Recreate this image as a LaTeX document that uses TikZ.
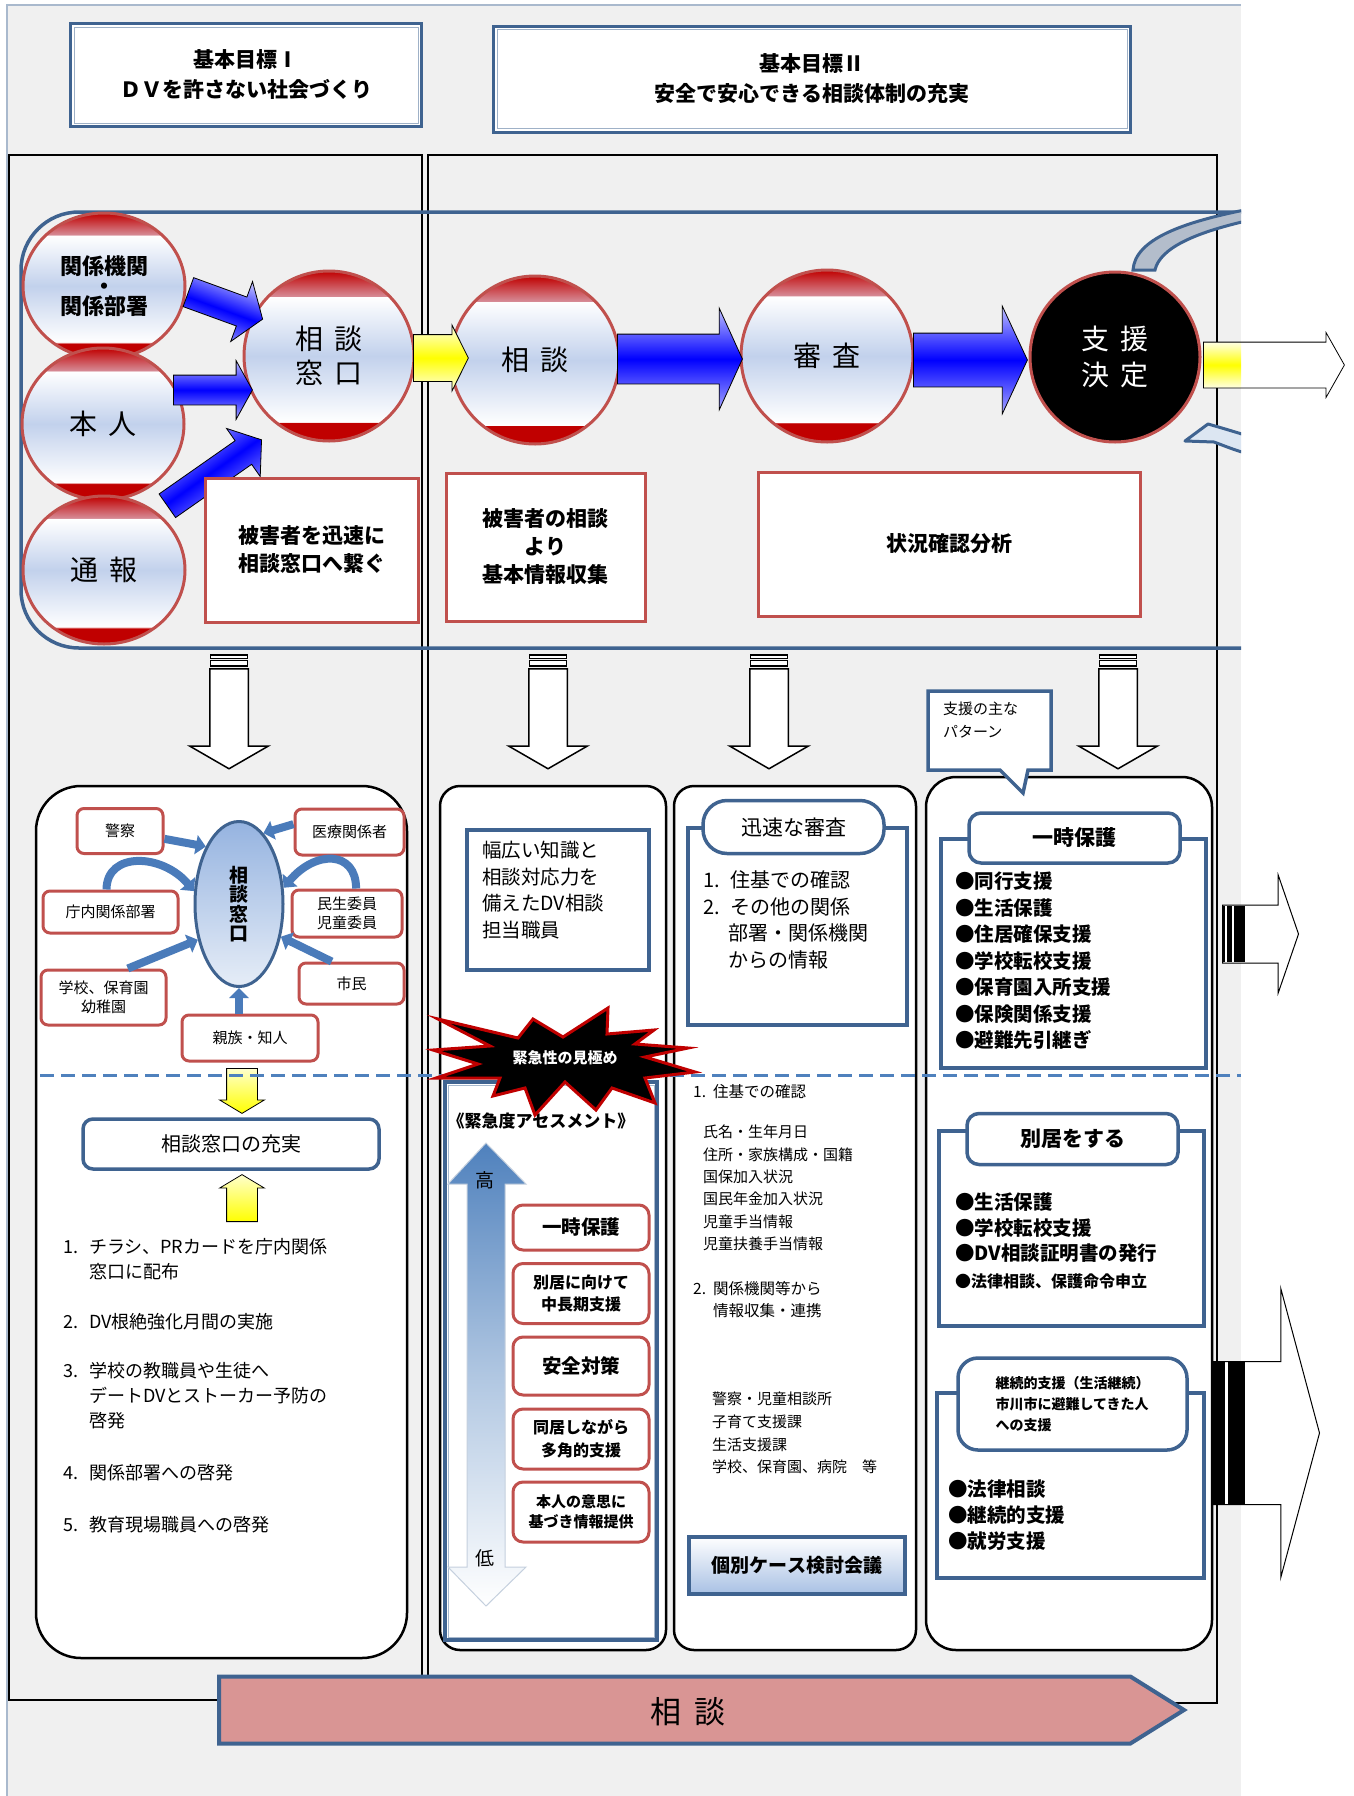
\documentclass[tikz,border=0pt]{standalone}
\usepackage{fontspec}
\setmainfont{Noto Sans CJK JP}
\usetikzlibrary{shapes.geometric,shapes.arrows,arrows.meta,positioning,calc}

\definecolor{bggray}{HTML}{F0F0F0}
\definecolor{lineblue}{HTML}{3F6390}
\definecolor{boxred}{HTML}{C0504D}
\definecolor{capred}{HTML}{C00000}
\definecolor{capfade}{HTML}{D68B96}
\definecolor{ballblue}{HTML}{C2D1EC}
\definecolor{linkblue}{HTML}{4A7BBA}
\definecolor{dashblue}{HTML}{4F81BD}
\definecolor{ovalblue}{HTML}{95B3E0}
\definecolor{ovalpale}{HTML}{E6EDF7}
\definecolor{meetblue}{HTML}{A9C1E4}
\definecolor{soudanpink}{HTML}{D99594}
\definecolor{bendgray}{HTML}{B3BDCB}
\definecolor{bendpale}{HTML}{DCE6F2}

\newcommand{\fsz}[2]{\fontsize{#1}{#2}\selectfont}

\pgfdeclareverticalshading{ballshade}{100bp}{color(0bp)=(capred); color(25bp)=(capred); color(30.5bp)=(capred); color(30.6bp)=(white); color(50bp)=(ballblue); color(67.4bp)=(white); color(67.5bp)=(capfade); color(75bp)=(capred); color(100bp)=(capred)}

\begin{document}
\begin{tikzpicture}[x=1pt, y=-1pt,
    titlebox/.style = {draw=lineblue, line width=3pt, fill=white, align=center, font=\fsz{21}{30}\bfseries},
    ball/.style = {circle, draw=boxred, line width=3pt, shade, shading=ballshade, inner sep=0pt, align=center, font=\fsz{28}{34}},
    sideball/.style = {ball, ellipse, minimum width=162pt},
    darkball/.style = {circle, draw=boxred, line width=3pt, fill=black, text=white, inner sep=0pt, align=center, font=\fsz{28}{36}},
    bluearrow/.style = {single arrow, draw=black, line width=0.8pt, inner xsep=0pt, anchor=tail, top color=blue!25, bottom color=blue!35, middle color=blue},
    yellowarrow/.style = {single arrow, draw=black, line width=0.8pt, inner xsep=0pt, anchor=tail, top color=yellow!12, bottom color=yellow!12, middle color=yellow},
    redbox/.style = {draw=boxred, line width=3pt, fill=white, align=center, inner sep=0pt, font=\fsz{21}{28}\bfseries},
    downarrow/.style = {single arrow, draw=black, line width=1.5pt, fill=white, inner xsep=0pt, inner ysep=18.5pt, single arrow head extend=20pt, single arrow tip angle=120, minimum height=100pt, rotate=-90, anchor=tail},
    colbox/.style = {draw=black, line width=2.5pt, fill=white, inner sep=0pt},
    smallbox/.style = {draw=boxred, line width=3pt, fill=white, rounded corners=7pt, align=center, inner sep=0pt, font=\fsz{15}{19}},
    link/.style = {draw=linkblue, line width=8pt, -{Triangle[length=10pt, width=19pt]}},
    listbox/.style = {draw=lineblue, line width=4pt, fill=white, inner sep=0pt},
    tabbox/.style = {draw=lineblue, line width=3.5pt, fill=white, rounded corners=12pt, inner sep=0pt, align=center, font=\fsz{21}{26}\bfseries},
    stepred/.style = {draw=boxred, line width=3pt, fill=white, rounded corners=10pt, align=center, inner sep=0pt, minimum width=136pt},
    txt/.style = {inner sep=0pt, align=left, anchor=west}
  ]
\useasboundingbox (0,0) rectangle (1354,1796);
\fill[white] (0,0) rectangle (1354,1796);
\fill[bggray] (7,5) rectangle (1241,1796);
\draw[lineblue!45, line width=2pt] (7,1796) -- (7,5) -- (1241,5);

\node[titlebox, minimum width=351pt, minimum height=103pt] (goal1) at (246,75) {基本目標Ⅰ\\ＤＶを許さない社会づくり};
\draw[lineblue!50, line width=1pt] ($(goal1.north west)+(5,5)$) rectangle ($(goal1.south east)+(-5,-5)$);
\node[titlebox, minimum width=637pt, minimum height=106pt] (goal2) at (812,79) {基本目標Ⅱ\\安全で安心できる相談体制の充実};
\draw[lineblue!50, line width=1pt] ($(goal2.north west)+(5,5)$) rectangle ($(goal2.south east)+(-5,-5)$);

\draw[line width=2pt] (9,155) rectangle (422,1700);
\draw[line width=2pt] (428,155) rectangle (1217,1703);

\draw[lineblue, line width=3.5pt, rounded corners=58pt] (1241,212) -- (21,212) -- (21,648) -- (1241,648);
\begin{scope}
  \clip (0,0) rectangle (1241,1796);
  \draw[lineblue, line width=3pt, fill=bendgray] (1133,270) .. controls (1135,240) and (1180,222) .. (1255,208) -- (1255,219) .. controls (1195,232) and (1160,248) .. (1155,270) -- cycle;
  \draw[lineblue, line width=3pt, fill=bendpale, line join=round] (1185,441) -- (1208,424) .. controls (1222,428) .. (1255,438) -- (1255,456) .. controls (1235,450) .. (1214,442) -- cycle;
\end{scope}

\node[sideball, minimum height=146pt, font=\fsz{22}{26}\bfseries] (kikan) at (104,286) {関係機関\\[-6pt]・\\[-6pt]関係部署};
\node[sideball, minimum height=152pt] (honnin) at (103,424) {本\hspace{.4em}人};
\node[sideball, minimum height=148pt] (tsuho) at (104,570) {通\hspace{.4em}報};
\node[ball, minimum size=170pt] (madoguchi) at (329,356) {相\hspace{.4em}談\\窓\hspace{.4em}口};
\node[ball, minimum size=168pt] (soudan) at (535,360) {相\hspace{.4em}談};
\node[ball, minimum size=172pt] (shinsa) at (827,356) {審\hspace{.4em}査};
\node[darkball, minimum size=170pt] (kettei) at (1115,357) {支\hspace{.4em}援\\決\hspace{.4em}定};

\node[bluearrow, inner ysep=15pt, single arrow head extend=16.5pt, single arrow tip angle=110, minimum height=79pt, rotate=-20, shading angle=-20] (kikanarrow) at (188,292) {};
\node[bluearrow, inner ysep=14.5pt, single arrow head extend=14.5pt, single arrow tip angle=122, minimum height=79pt] (honninarrow) at (173,390) {};
\node[bluearrow, inner ysep=14pt, single arrow head extend=15pt, single arrow tip angle=106, minimum height=115pt, rotate=35, shading angle=35] (tsuhoarrow) at (167,506) {};
\node[yellowarrow, inner ysep=23pt, single arrow head extend=9.5pt, single arrow tip angle=127, minimum height=55pt] (madoguchiarrow) at (413,358) {};
\node[bluearrow, inner ysep=24.5pt, single arrow head extend=26pt, single arrow tip angle=131, minimum height=125pt] (soudanarrow) at (617,359) {};
\node[bluearrow, inner ysep=26.5pt, single arrow head extend=27pt, single arrow tip angle=130, minimum height=114pt] (shinsaarrow) at (913,360) {};
\shade[top color=yellow!12, bottom color=yellow!12, middle color=yellow] (1203,342.5) rectangle (1241,387.5);
\node[single arrow, draw=black, line width=0.8pt, inner xsep=0pt, anchor=tail, inner ysep=22.5pt, single arrow head extend=9.5pt, single arrow tip angle=121, minimum height=141pt] (ketteiarrow) at (1203,365) {};

\node[redbox, minimum width=213pt, minimum height=144pt] (tsunagu) at (311.5,550) {被害者を迅速に\\相談窓口へ繋ぐ};
\node[redbox, minimum width=199pt, minimum height=148pt] (shushu) at (545.5,547) {被害者の相談\\より\\基本情報収集};
\node[redbox, minimum width=382pt, minimum height=144pt] (bunseki) at (949,544) {状況確認分析};

\node[downarrow] (downA) at (229,668) {};
\node[downarrow] (downB) at (548,668) {};
\node[downarrow] (downC) at (769,668) {};
\node[downarrow] (downD) at (1118,668) {};
\foreach \cx in {229,548,769,1118} {
  \draw[fill=white, line width=1.2pt] (\cx-18.5,655) rectangle (\cx+18.5,658.5);
  \draw[fill=white, line width=1.2pt] (\cx-18.5,660.5) rectangle (\cx+18.5,666);
}

\node[colbox, rounded corners=45pt, minimum width=371pt, minimum height=872pt] (leftcol) at (221.5,1222) {};
\node[colbox, rounded corners=20pt, minimum width=226pt, minimum height=864pt] (assesscol) at (553,1218) {};
\node[colbox, rounded corners=20pt, minimum width=242pt, minimum height=864pt] (checkcol) at (795,1218) {};
\node[colbox, rounded corners=30pt, minimum width=286pt, minimum height=873pt] (supportcol) at (1069,1213.5) {};

\draw[lineblue, line width=3.5pt, fill=white, line join=miter] (928,691) -- (1051,691) -- (1051,770) -- (1028,770) -- (1023,793) -- (1000,770) -- (928,770) -- cycle;
\node[txt, font=\fsz{15}{23}] (pattern) at (943,720.5) {支援の主な\\パターン};

\node[ellipse, draw=lineblue, line width=3pt, top color=ovalblue, bottom color=ovalpale, minimum width=88pt, minimum height=165pt, inner sep=0pt, align=center, font=\fsz{19}{19.5}\bfseries] (oval) at (239,904) {相\\談\\窓\\口};
\node[smallbox, minimum width=86pt, minimum height=45pt] (keisatsu) at (120,831) {警察};
\node[smallbox, minimum width=109pt, minimum height=46pt] (iryou) at (349.5,832) {医療関係者};
\node[smallbox, minimum width=135pt, minimum height=42pt] (chonai) at (110.5,912) {庁内関係部署};
\node[smallbox, minimum width=110pt, minimum height=47pt] (minsei) at (347,913.5) {民生委員\\児童委員};
\node[smallbox, minimum width=125pt, minimum height=55pt] (gakkou) at (103.5,997.5) {学校、保育園\\幼稚園};
\node[smallbox, minimum width=105pt, minimum height=41pt] (shimin) at (351.5,983.5) {市民};
\node[smallbox, minimum width=136pt, minimum height=46pt] (shinzoku) at (250,1038) {親族・知人};

\draw[link] (keisatsu.-10) -- (oval.120);
\draw[link] (iryou.172) -- (oval.71);
\draw[link] (chonai.100) .. controls +(0,-38) and +(-32,-38) .. (oval.164);
\draw[link] (minsei.70) .. controls +(0,-38) and +(32,-38) .. (oval.20);
\draw[link] (gakkou.50) -- (oval.221);
\draw[link] (shimin.132) -- (oval.-38);
\draw[link] (shinzoku.north -| oval.south) -- (oval.south);

\node[yellowarrow, top color=yellow!20, bottom color=yellow, inner ysep=15pt, single arrow head extend=7pt, single arrow tip angle=118, minimum height=45pt, rotate=-90] (downY) at (242,1068) {};
\node[tabbox, rounded corners=10pt, minimum width=296pt, minimum height=50pt, font=\fsz{20}{24}] (juujitsu) at (231,1144) {相談窓口の充実};
\node[yellowarrow, top color=yellow!20, bottom color=yellow, inner ysep=15pt, single arrow head extend=7pt, single arrow tip angle=118, minimum height=47pt, rotate=90] (upY) at (242,1222) {};

\node[txt, font=\fsz{18}{25}] (item1) at (63,1259.5) {\makebox[26pt][l]{1.}チラシ、PRカードを庁内関係\\\hspace*{26pt}窓口に配布};
\node[txt, font=\fsz{18}{25}] (item2) at (63,1322) {\makebox[26pt][l]{2.}DV根絶強化月間の実施};
\node[txt, font=\fsz{18}{25}] (item3) at (63,1396) {\makebox[26pt][l]{3.}学校の教職員や生徒へ\\\hspace*{26pt}デートDVとストーカー予防の\\\hspace*{26pt}啓発};
\node[txt, font=\fsz{18}{25}] (item4) at (63,1473) {\makebox[26pt][l]{4.}関係部署への啓発};
\node[txt, font=\fsz{18}{25}] (item5) at (63,1525) {\makebox[26pt][l]{5.}教育現場職員への啓発};

\node[listbox, minimum width=182pt, minimum height=140pt] (chishiki) at (558,900) {};
\node[txt, font=\fsz{19.5}{26.7}] (chishikitxt) at (482,890) {幅広い知識と\\相談対応力を\\備えたDV相談\\担当職員};
\node[draw=lineblue, line width=4pt, fill=white, minimum width=212pt, minimum height=558pt] (assess) at (551,1361) {};
\draw[lineblue!45, line width=1pt] ($(assess.north west)+(5,5)$) rectangle ($(assess.south east)+(-5,-5)$);
\node[font=\fsz{17}{20}\bfseries] (assesstitle) at (541,1121) {《緊急度アセスメント》};
\shadedraw[top color=dashblue, bottom color=white, middle color=dashblue!45, draw=lineblue!30, line width=1pt] (486,1143) -- (526,1184) -- (505,1184) -- (505,1567) -- (526,1567) -- (486,1606) -- (448,1567) -- (467,1567) -- (467,1184) -- (448,1184) -- cycle;
\node[font=\fsz{19}{22}] (high) at (485,1180) {高};
\node[font=\fsz{19}{22}] (low) at (485,1558) {低};
\node[stepred, minimum height=45pt, font=\fsz{19.5}{24}\bfseries] (stepA) at (581,1227.5) {一時保護};
\node[stepred, minimum height=60pt, font=\fsz{16}{22.5}\bfseries] (stepB) at (581,1293.5) {別居に向けて\\中長期支援};
\node[stepred, minimum height=58pt, font=\fsz{19.5}{24}\bfseries] (stepC) at (581,1366) {安全対策};
\node[stepred, minimum height=60pt, font=\fsz{16}{22.5}\bfseries] (stepD) at (581,1439) {同居しながら\\多角的支援};
\node[stepred, minimum height=60pt, font=\fsz{15}{19.5}\bfseries] (stepE) at (581,1512) {本人の意思に\\基づき情報提供};

\node[listbox, minimum width=219pt, minimum height=197pt] (jinsokubox) at (797.5,926.5) {};
\node[tabbox, rounded corners=24pt, minimum width=181pt, minimum height=53pt, font=\fsz{21}{24}] (jinsoku) at (793.5,827) {迅速な審査};
\node[txt, font=\fsz{20}{26.7}] (jinsokutxt) at (703,920) {\makebox[27pt][l]{1.}住基での確認\\\makebox[27pt][l]{2.}その他の関係\\\hspace*{25pt}部署・関係機関\\\hspace*{25pt}からの情報};
\node[txt, font=\fsz{15.5}{22}] (juuki) at (693,1092) {\makebox[20pt][l]{1.}住基での確認};
\node[txt, font=\fsz{15}{22.4}] (juukilist) at (703,1188) {氏名・生年月日\\住所・家族構成・国籍\\国保加入状況\\国民年金加入状況\\児童手当情報\\児童扶養手当情報};
\node[txt, font=\fsz{15.5}{21.5}] (kikanrenkei) at (693,1299.5) {\makebox[20pt][l]{2.}関係機関等から\\\hspace*{20pt}情報収集・連携};
\node[txt, font=\fsz{15}{22.7}] (kikanlist) at (712,1433) {警察・児童相談所\\子育て支援課\\生活支援課\\学校、保育園、病院\hspace{1em}等};
\node[draw=lineblue, line width=4pt, top color=white, bottom color=meetblue, minimum width=216pt, minimum height=57pt, font=\fsz{19}{22}\bfseries] (kobetsu) at (797,1565) {個別ケース検討会議};

\node[listbox, minimum width=265pt, minimum height=229pt] (ichijibox) at (1073.5,953.5) {};
\node[tabbox, minimum width=211pt, minimum height=50pt] (ichiji) at (1074.5,838) {一時保護};
\node[txt, font=\fsz{19.5}{26.5}\bfseries] (ichijilist) at (955,961) {●同行支援\\●生活保護\\●住居確保支援\\●学校転校支援\\●保育園入所支援\\●保険関係支援\\●避難先引継ぎ};
\node[listbox, minimum width=265pt, minimum height=195pt] (bekkyobox) at (1071.5,1228.5) {};
\node[tabbox, minimum width=211pt, minimum height=51pt] (bekkyo) at (1072.5,1139) {別居をする};
\node[txt, font=\fsz{19.5}{25.5}\bfseries] (bekkyolist) at (955,1228) {●生活保護\\●学校転校支援\\●DV相談証明書の発行};
\node[txt, font=\fsz{16}{20}\bfseries] (bekkyolast) at (955,1281) {●法律相談、保護命令申立};
\node[listbox, minimum width=267pt, minimum height=185pt] (keizokubox) at (1070.5,1485.5) {};
\node[tabbox, rounded corners=20pt, minimum width=229pt, minimum height=92pt, align=left, font=\fsz{14}{21}\bfseries] (keizoku) at (1072.5,1404) {継続的支援（生活継続）\\市川市に避難してきた人\\への支援};
\node[txt, font=\fsz{19.5}{26}\bfseries] (keizokulist) at (948,1515) {●法律相談\\●継続的支援\\●就労支援};

\draw[dashblue, line width=3pt, dash pattern=on 14pt off 7pt] (40,1075) -- (1241,1075);

\draw[fill=black, draw=capred, line width=3pt] (438,1019) -- (518,1038) -- (533,1019) -- (563,1037) -- (608,1008) -- (607,1034) -- (654,1030) -- (635,1044) -- (688,1048) -- (645,1057) -- (695,1072) -- (645,1078) -- (655,1103) -- (612,1088) -- (596,1110) -- (565,1082) -- (535,1115) -- (525,1088) -- (493,1096) -- (500,1078) -- (436,1078) -- (478,1064) -- (433,1050) -- (490,1046) -- cycle;
\node[font=\fsz{15}{18}\bfseries, text=white] (kinkyu) at (565,1058) {緊急性の見極め};

\node[single arrow, draw=black, line width=1pt, fill=white, inner xsep=0pt, inner ysep=28.5pt, single arrow head extend=30pt, single arrow tip angle=142, minimum height=76pt, anchor=tail] (nextA) at (1222,934) {};
\fill (1222,906) rectangle (1224.5,962);
\fill (1227,906) rectangle (1232,962);
\fill (1234,906) rectangle (1245,962);
\node[single arrow, draw=black, line width=1pt, fill=white, inner xsep=0pt, inner ysep=71pt, single arrow head extend=73pt, single arrow tip angle=150, minimum height=107pt, anchor=tail] (nextB) at (1212,1433) {};
\fill (1212,1362) rectangle (1225,1504);
\fill (1228,1362) rectangle (1245,1504);

\node[single arrow, draw=lineblue, line width=4pt, fill=soudanpink, inner xsep=0pt, inner ysep=31.5pt, single arrow head extend=0pt, single arrow tip angle=64, minimum height=965pt, anchor=tail] (soudanbar) at (217,1710) {};
\node[font=\fsz{31}{34}] (soudanbartxt) at (688,1712) {相\hspace{.4em}談};
\end{tikzpicture}
\end{document}
